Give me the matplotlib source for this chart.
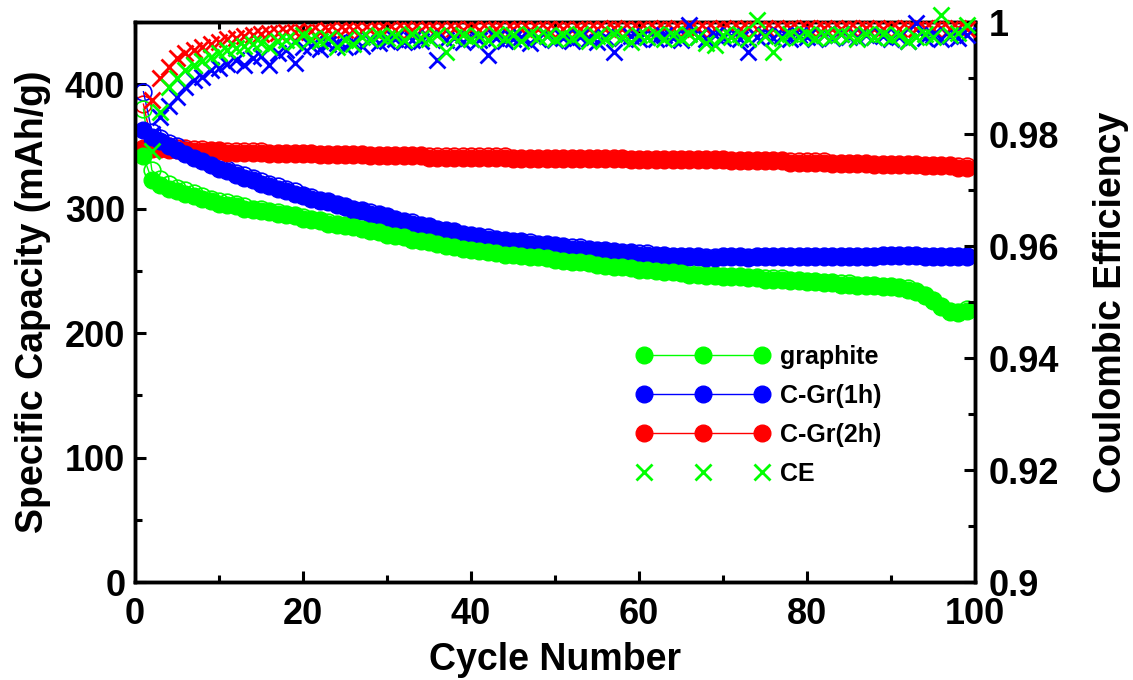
import numpy as np
import matplotlib
matplotlib.use("Agg")
import matplotlib.pyplot as plt
from matplotlib.ticker import MultipleLocator, FuncFormatter

plt.rcParams['font.family'] = ['Liberation Sans', 'DejaVu Sans']
plt.rcParams['font.weight'] = 'bold'

# --- data ---
cycles = np.arange(1, 100)
ce_cycles = np.arange(2, 100)

graphite_dis = [342, 323, 319, 316, 314, 312, 310, 308, 306, 304,
                303, 302, 300, 299, 298, 297, 296, 295, 294, 292,
                291, 290, 288, 287, 286, 285, 284, 282, 281, 279,
                278, 277, 275, 274, 273, 272, 270, 269, 268, 267,
                266, 265, 264, 263, 263, 262, 261, 261, 260, 259,
                258, 257, 257, 256, 255, 254, 253, 253, 252, 251,
                251, 250, 249, 249, 248, 247, 247, 246, 246, 245,
                245, 245, 244, 244, 243, 243, 243, 242, 242, 241,
                241, 240, 240, 239, 239, 238, 238, 238, 237, 237,
                236, 235, 233, 230, 226, 221, 217, 216, 218]
graphite_chg = [380, 331, 324, 320, 317, 315, 313, 310, 308, 306,
                305, 304, 302, 300, 300, 298, 297, 296, 295, 293,
                292, 291, 289, 288, 287, 286, 285, 283, 282, 280,
                279, 278, 276, 275, 274, 273, 271, 270, 269, 268,
                267, 266, 265, 264, 264, 263, 262, 262, 261, 260,
                259, 258, 258, 257, 256, 255, 254, 254, 253, 252,
                252, 251, 250, 250, 249, 248, 248, 247, 247, 246,
                246, 246, 245, 245, 244, 244, 244, 243, 243, 242,
                242, 241, 241, 240, 240, 239, 239, 239, 238, 238,
                237, 236, 234, 231, 227, 222, 218, 217, 219]

cgr1_dis = [363, 358, 354, 350, 347, 344, 341, 338, 335, 332,
            330, 327, 325, 323, 320, 318, 316, 314, 312, 310,
            308, 306, 305, 303, 301, 299, 298, 296, 295, 293,
            291, 289, 288, 286, 285, 283, 282, 281, 279, 278,
            277, 276, 275, 274, 273, 273, 272, 271, 271, 270,
            269, 268, 268, 267, 266, 266, 265, 264, 264, 263,
            263, 262, 262, 261, 261, 261, 261, 260, 260, 261,
            261, 261, 260, 261, 261, 261, 261, 261, 261, 261,
            261, 261, 261, 261, 261, 261, 261, 261, 262, 262,
            262, 262, 262, 261, 261, 261, 261, 261, 261]
cgr1_chg = [394, 362, 357, 353, 350, 347, 343, 340, 337, 334,
            332, 329, 327, 325, 322, 320, 318, 316, 314, 311,
            309, 307, 306, 304, 302, 300, 299, 297, 296, 294,
            292, 290, 289, 287, 286, 284, 283, 282, 280, 279,
            278, 277, 276, 275, 274, 274, 273, 272, 272, 271,
            270, 269, 269, 268, 267, 267, 266, 265, 265, 264,
            264, 263, 263, 262, 262, 262, 262, 261, 261, 262,
            262, 262, 261, 262, 262, 262, 262, 262, 262, 262,
            262, 262, 262, 262, 262, 262, 262, 262, 263, 263,
            263, 263, 263, 262, 262, 262, 262, 262, 262]

cgr2_dis = [349, 348, 348, 347, 347, 347, 346, 346, 346, 346,
            345, 345, 345, 345, 345, 344, 344, 344, 344, 344,
            344, 343, 343, 343, 343, 343, 343, 342, 342, 342,
            342, 342, 342, 342, 341, 341, 341, 341, 341, 341,
            341, 341, 341, 341, 340, 340, 340, 340, 340, 340,
            340, 340, 340, 340, 340, 340, 340, 340, 339, 339,
            339, 339, 339, 339, 339, 339, 339, 339, 339, 339,
            338, 338, 338, 338, 338, 338, 338, 337, 337, 337,
            337, 337, 336, 336, 336, 336, 336, 335, 335, 335,
            335, 335, 335, 334, 334, 334, 334, 333, 333]
cgr2_chg = [384, 353, 351, 350, 349, 349, 348, 348, 347, 347,
            346, 346, 346, 346, 346, 345, 345, 345, 345, 345,
            345, 344, 344, 344, 344, 344, 344, 343, 343, 343,
            343, 343, 343, 343, 342, 342, 342, 342, 342, 342,
            342, 342, 342, 342, 341, 341, 341, 341, 341, 341,
            341, 341, 341, 341, 341, 341, 341, 341, 340, 340,
            340, 340, 340, 340, 340, 340, 340, 340, 340, 340,
            339, 339, 339, 339, 339, 339, 339, 338, 338, 338,
            338, 338, 337, 337, 337, 337, 337, 336, 336, 336,
            336, 336, 336, 335, 335, 335, 335, 334, 334]

# coulombic efficiency, cycles 2..99
ce_graphite = [0.977, 0.984, 0.9884, 0.990, 0.9914, 0.9923, 0.993, 0.9938, 0.9945,
               0.9950, 0.9954, 0.9957, 0.9960, 0.9962, 0.9955, 0.9966, 0.9968, 0.9964, 0.9977,
               0.9970, 0.9966, 0.9972, 0.9955, 0.9968, 0.9960, 0.9974, 0.9969, 0.9976, 0.9971,
               0.9975, 0.9968, 0.9978, 0.9972, 0.9970, 0.9976, 0.9947, 0.9973, 0.9977, 0.9970,
               0.9975, 0.9968, 0.9978, 0.9972, 0.9976, 0.9966, 0.9979, 0.9973, 0.9975, 0.9969,
               0.9977, 0.9972, 0.9978, 0.9966, 0.9975, 0.9970, 0.9978, 0.9974, 0.9965, 0.9977,
               0.9973, 0.9979, 0.9970, 0.9976, 0.9972, 0.9978, 0.9974, 0.9962, 0.9959, 0.9977,
               0.9973, 0.9978, 0.9970, 1.0004, 0.9975, 0.9947, 0.9972, 0.9978, 0.9974, 0.9979,
               0.9971, 0.9977, 0.9973, 0.9979, 0.9975, 0.9970, 0.9978, 0.9974, 0.9979, 0.9972,
               0.9977, 0.9966, 0.9974, 0.9979, 0.9973, 1.0012, 0.9976, 0.9980, 0.9995]
ce_cgr1 = [0.980, 0.983, 0.985, 0.9866, 0.9884, 0.9896, 0.9902, 0.9914, 0.9918,
           0.9925, 0.9932, 0.9923, 0.9936, 0.9940, 0.9923, 0.9945, 0.9950, 0.9927, 0.9956,
           0.9958, 0.9952, 0.9960, 0.9962, 0.9955, 0.9965, 0.9958, 0.9968, 0.9962, 0.9966,
           0.9970, 0.9964, 0.9968, 0.9966, 0.9972, 0.9932, 0.9968, 0.9971, 0.9965, 0.9970,
           0.9968, 0.9941, 0.9972, 0.9966, 0.9970, 0.9974, 0.9962, 0.9969, 0.9975, 0.9968,
           0.9972, 0.9966, 0.9974, 0.9970, 0.9965, 0.9973, 0.9947, 0.9971, 0.9975, 0.9969,
           0.9974, 0.9970, 0.9976, 0.9972, 0.9968, 0.9995, 0.9973, 0.9970, 0.9976, 0.9972,
           0.9975, 0.9970, 0.9947, 0.9974, 0.9977, 0.9971, 0.9975, 0.9969, 0.9976, 0.9973,
           0.9970, 0.9976, 0.9972, 0.9978, 0.9974, 0.9971, 0.9977, 0.9973, 0.9975, 0.9970,
           0.9974, 0.9966, 0.9998, 0.9972, 0.9976, 0.9970, 0.9975, 0.9972, 0.9977]
ce_cgr2 = [0.986, 0.990, 0.992, 0.9935, 0.9945, 0.995, 0.9955, 0.996, 0.9965,
           0.997, 0.9972, 0.9975, 0.9977, 0.9978, 0.998, 0.998, 0.9982, 0.9982, 0.9983,
           0.9984, 0.9983, 0.9985, 0.9984, 0.9986, 0.9985, 0.9984, 0.9986, 0.9985, 0.9986,
           0.9985, 0.9987, 0.9986, 0.9985, 0.9987, 0.9986, 0.9985, 0.9987, 0.9986, 0.9987,
           0.9986, 0.9988, 0.9987, 0.9986, 0.9988, 0.9987, 0.9986, 0.9988, 0.9987, 0.9988,
           0.9987, 0.9986, 0.9988, 0.9987, 0.9988, 0.9987, 0.9989, 0.9988, 0.9987, 0.9988,
           0.9988, 0.9987, 0.9989, 0.9988, 0.9987, 0.9989, 0.9988, 0.9987, 0.9988, 0.9989,
           0.9988, 0.9987, 0.9989, 0.9988, 0.9989, 0.9988, 0.9987, 0.9989, 0.9988, 0.9989,
           0.9988, 0.9989, 0.9987, 0.9988, 0.9989, 0.9988, 0.9989, 0.9988, 0.9987, 0.9989,
           0.9988, 0.9989, 0.9988, 0.9989, 0.9988, 0.9989, 0.9988, 0.9989, 0.9988]

labels = ['graphite', 'C-Gr(1h)', 'C-Gr(2h)']
colors = ['#00ff00', '#0000ff', '#ff0000']

# --- plotting ---
fig = plt.figure(figsize=(11.33, 6.8), dpi=100)
ax = fig.add_axes([0.1192, 0.1441, 0.7414, 0.8235])
ax2 = ax.twinx()

ms = 12
dis = [graphite_dis, cgr1_dis, cgr2_dis]
chg = [graphite_chg, cgr1_chg, cgr2_chg]
handles = []
# draw red first, then blue, then green
for i in [2, 1, 0]:
    ax.plot(cycles, chg[i], '-o', color=colors[i], lw=1, ms=ms,
            mfc='none', mew=1.2, zorder=2)
for i in [2, 1, 0]:
    h, = ax.plot(cycles, dis[i], '-o', color=colors[i], lw=1, ms=ms,
                 mec=colors[i], zorder=3, label=labels[i])
    handles.append(h)
handles = handles[::-1]

ces = [ce_graphite, ce_cgr1, ce_cgr2]
for i in [2, 1, 0]:
    h = ax2.plot(ce_cycles, ces[i], 'x', color=colors[i], ms=11, mew=2,
                 clip_on=False, zorder=4, label='CE')[0]
    if i == 0:
        ce_handle = h

ax.set_xlim(0, 100)
ax.set_ylim(0, 450)
ax2.set_ylim(0.9, 1.0)

ax.xaxis.set_major_locator(MultipleLocator(20))
ax.xaxis.set_minor_locator(MultipleLocator(10))
ax.yaxis.set_major_locator(MultipleLocator(100))
ax.yaxis.set_minor_locator(MultipleLocator(50))
ax2.yaxis.set_major_locator(MultipleLocator(0.02))
ax2.yaxis.set_minor_locator(MultipleLocator(0.01))
ax2.yaxis.set_major_formatter(FuncFormatter(lambda v, p: '%g' % round(v, 4)))

for a in (ax, ax2):
    for s in a.spines.values():
        s.set_linewidth(2.5)
ax.tick_params(axis='x', which='both', direction='in', top=True, bottom=True,
               width=2.2, labelsize=26, pad=11)
ax.tick_params(axis='y', which='both', direction='in', left=True, right=False,
               width=2.2, labelsize=26, pad=7)
ax.tick_params(which='major', length=8)
ax.tick_params(which='minor', length=5)
ax2.tick_params(axis='y', which='both', direction='in', width=2.2, labelsize=26, pad=10)
ax2.tick_params(which='major', length=8)
ax2.tick_params(which='minor', length=5)

ax.set_xlabel('Cycle Number', fontsize=27, fontweight='bold', labelpad=7)
ax.set_ylabel('Specific Capacity (mAh/g)', fontsize=27, fontweight='bold', labelpad=10)
ax2.set_ylabel('Coulombic Efficiency', fontsize=27, fontweight='bold', labelpad=24)

ax2.legend(handles + [ce_handle], labels + ['CE'], loc='upper left',
           bbox_to_anchor=(0.597, 0.424), frameon=False, numpoints=3,
           handlelength=5.3, handletextpad=0.45, labelspacing=0.6,
           borderpad=0, borderaxespad=0, prop={'size': 18, 'weight': 'bold'})

fig.savefig('out.png', dpi=100)
